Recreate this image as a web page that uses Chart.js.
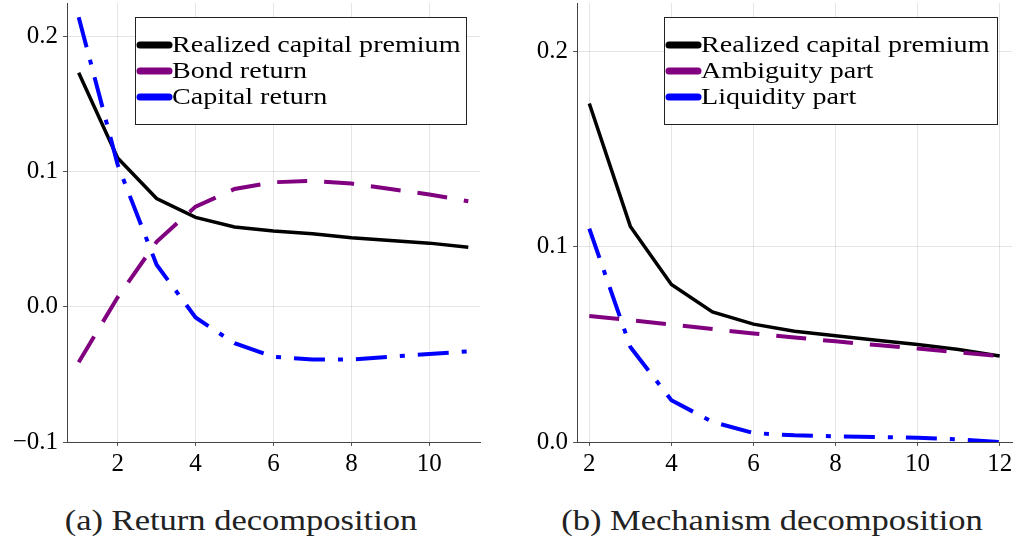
<!DOCTYPE html>
<html>
<head>
<meta charset="utf-8">
<script src="https://cdn.jsdelivr.net/npm/chart.js@4"></script>
<style>
  body { margin: 0; background: #fff; width: 1015px; height: 542px; position: relative; overflow: hidden; }
  canvas { position: absolute; top: 0; }
  #cvLeft { left: 0; }
  #cvRight { left: 500px; }
  .caption { position: absolute; top: 503px; font-family: 'Liberation Serif', serif; font-size: 30px; color: #222; transform: translateX(-50%) scaleX(1.15); white-space: nowrap; }
</style>
</head>
<body>
<canvas id="cvLeft" width="500" height="480"></canvas>
<canvas id="cvRight" width="515" height="480"></canvas>
<div class="caption" style="left:241px">(a) Return decomposition</div>
<div class="caption" style="left:772px">(b) Mechanism decomposition</div>

<script>
// left panel: return decomposition
var xLeft = [1, 2, 3, 4, 5, 6, 7, 8, 9, 10, 11];
var premiumLeft = [0.173, 0.110, 0.080, 0.066, 0.059, 0.056, 0.054, 0.051, 0.049, 0.047, 0.044];
var bondReturn = [-0.041, 0.007, 0.048, 0.074, 0.087, 0.092, 0.093, 0.091, 0.087, 0.083, 0.078];
var capitalReturn = [0.214, 0.105, 0.031, -0.008, -0.027, -0.037, -0.039, -0.039, -0.037, -0.035, -0.033];
var xTicksLeft = [2, 4, 6, 8, 10];
var yTicksLeft = [-0.1, 0.0, 0.1, 0.2];

// right panel: mechanism decomposition
var xRight = [2, 3, 4, 5, 6, 7, 8, 9, 10, 11, 12];
var premiumRight = [0.1735, 0.1105, 0.0807, 0.0667, 0.0604, 0.0568, 0.0544, 0.0522, 0.0500, 0.0474, 0.0441];
var ambiguityPart = [0.0646, 0.0624, 0.0602, 0.0579, 0.0556, 0.0536, 0.0516, 0.0497, 0.0479, 0.0460, 0.0441];
var liquidityPart = [0.1094, 0.0487, 0.0214, 0.0103, 0.0046, 0.0034, 0.0029, 0.0026, 0.0022, 0.0013, 0.0000];
var xTicksRight = [2, 4, 6, 8, 10, 12];
var yTicksRight = [0.0, 0.1, 0.2];

var FONT = "'Liberation Serif', serif";
var BLACK = '#000000', PURPLE = 'rgb(128, 0, 128)', BLUE = 'rgb(0, 0, 255)';

function pts(xs, ys) {
    return xs.map(function (x, i) { return { x: x, y: ys[i] }; });
}

function fmt(v) {
    return v.toFixed(1).replace('-', '\u2212');
}

// boxed legend drawn inside the plot, like the original
var boxLegend = {
    id: 'boxLegend',
    afterDraw: function (chart, args, opts) {
        var ctx = chart.ctx;
        ctx.save();
        ctx.fillStyle = '#fff';
        ctx.fillRect(opts.x, opts.y, opts.w, opts.h);
        ctx.strokeStyle = '#222';
        ctx.lineWidth = 1;
        ctx.strokeRect(opts.x + 0.5, opts.y + 0.5, opts.w, opts.h);
        chart.data.datasets.forEach(function (ds, i) {
            var yy = opts.y + 28 + i * 26;
            ctx.strokeStyle = ds.borderColor;
            ctx.lineWidth = 7;
            ctx.lineCap = 'round';
            ctx.setLineDash([]);
            ctx.beginPath();
            ctx.moveTo(opts.x + 5, yy);
            ctx.lineTo(opts.x + 34, yy);
            ctx.stroke();
            // serif text stretched a bit to get the width of the original font
            ctx.save();
            ctx.translate(opts.x + 37, yy + 1);
            ctx.scale(1.17, 1);
            ctx.font = '24px ' + FONT;
            ctx.textBaseline = 'middle';
            ctx.fillStyle = '#000';
            ctx.fillText(ds.label, 0, 0);
            ctx.restore();
        });
        ctx.restore();
    }
};

function makeChart(id, cfg) {
    return new Chart(document.getElementById(id), {
        type: 'line',
        data: {
            datasets: [{
                label: 'Realized capital premium',
                data: pts(cfg.xs, cfg.s1),
                borderColor: BLACK,
                borderWidth: 3.5,
                order: 3
            }, {
                label: cfg.label2,
                data: pts(cfg.xs, cfg.s2),
                borderColor: PURPLE,
                borderWidth: 4,
                borderDash: [30, 17],
                order: 2
            }, {
                label: cfg.label3,
                data: pts(cfg.xs, cfg.s3),
                borderColor: BLUE,
                borderWidth: 4,
                borderDash: [31, 13, 5, 13],
                order: 1
            }]
        },
        options: {
            responsive: false,
            animation: false,
            devicePixelRatio: 1,
            elements: { point: { radius: 0 }, line: { tension: 0, borderCapStyle: 'butt' } },
            layout: { padding: { top: 3, right: cfg.padRight, left: 0, bottom: 0 } },
            plugins: {
                legend: { display: false },
                tooltip: { enabled: false },
                boxLegend: cfg.legend
            },
            scales: {
                x: {
                    type: 'linear',
                    min: cfg.xMin,
                    max: cfg.xMax,
                    afterBuildTicks: function (s) { s.ticks = cfg.xTicks.map(function (v) { return { value: v }; }); },
                    afterFit: function (s) { s.height = 38; s.paddingLeft = 0; s.paddingRight = 0; },
                    ticks: { font: { family: FONT, size: 25 }, color: '#000', padding: 3, maxRotation: 0 },
                    grid: { color: 'rgba(0,0,0,0.1)', tickLength: 4, tickColor: '#555' },
                    border: { color: '#444', width: 1 }
                },
                y: {
                    min: cfg.yMin,
                    max: cfg.yMax,
                    afterBuildTicks: function (s) { s.ticks = cfg.yTicks.map(function (v) { return { value: v }; }); },
                    afterFit: function (s) { s.width = cfg.yWidth; s.paddingTop = 0; s.paddingBottom = 0; },
                    ticks: { font: { family: FONT, size: 25 }, color: '#000', padding: 5, callback: fmt },
                    grid: { color: 'rgba(0,0,0,0.1)', tickLength: 4, tickColor: '#555' },
                    border: { color: '#444', width: 1 }
                }
            }
        },
        plugins: [boxLegend]
    });
}

makeChart('cvLeft', {
    xs: xLeft, s1: premiumLeft, s2: bondReturn, s3: capitalReturn,
    label2: 'Bond return', label3: 'Capital return',
    xMin: 0.7, xMax: 11.3, yMin: -0.1, yMax: 0.2245,
    xTicks: xTicksLeft, yTicks: yTicksLeft,
    yWidth: 67, padRight: 20,
    legend: { x: 135, y: 17, w: 331, h: 107 }
});

makeChart('cvRight', {
    xs: xRight, s1: premiumRight, s2: ambiguityPart, s3: liquidityPart,
    label2: 'Ambiguity part', label3: 'Liquidity part',
    xMin: 1.7, xMax: 12.3, yMin: 0, yMax: 0.225,
    xTicks: xTicksRight, yTicks: yTicksRight,
    yWidth: 77, padRight: 3,
    legend: { x: 164, y: 17, w: 333, h: 107 }
});
</script>
</body>
</html>
